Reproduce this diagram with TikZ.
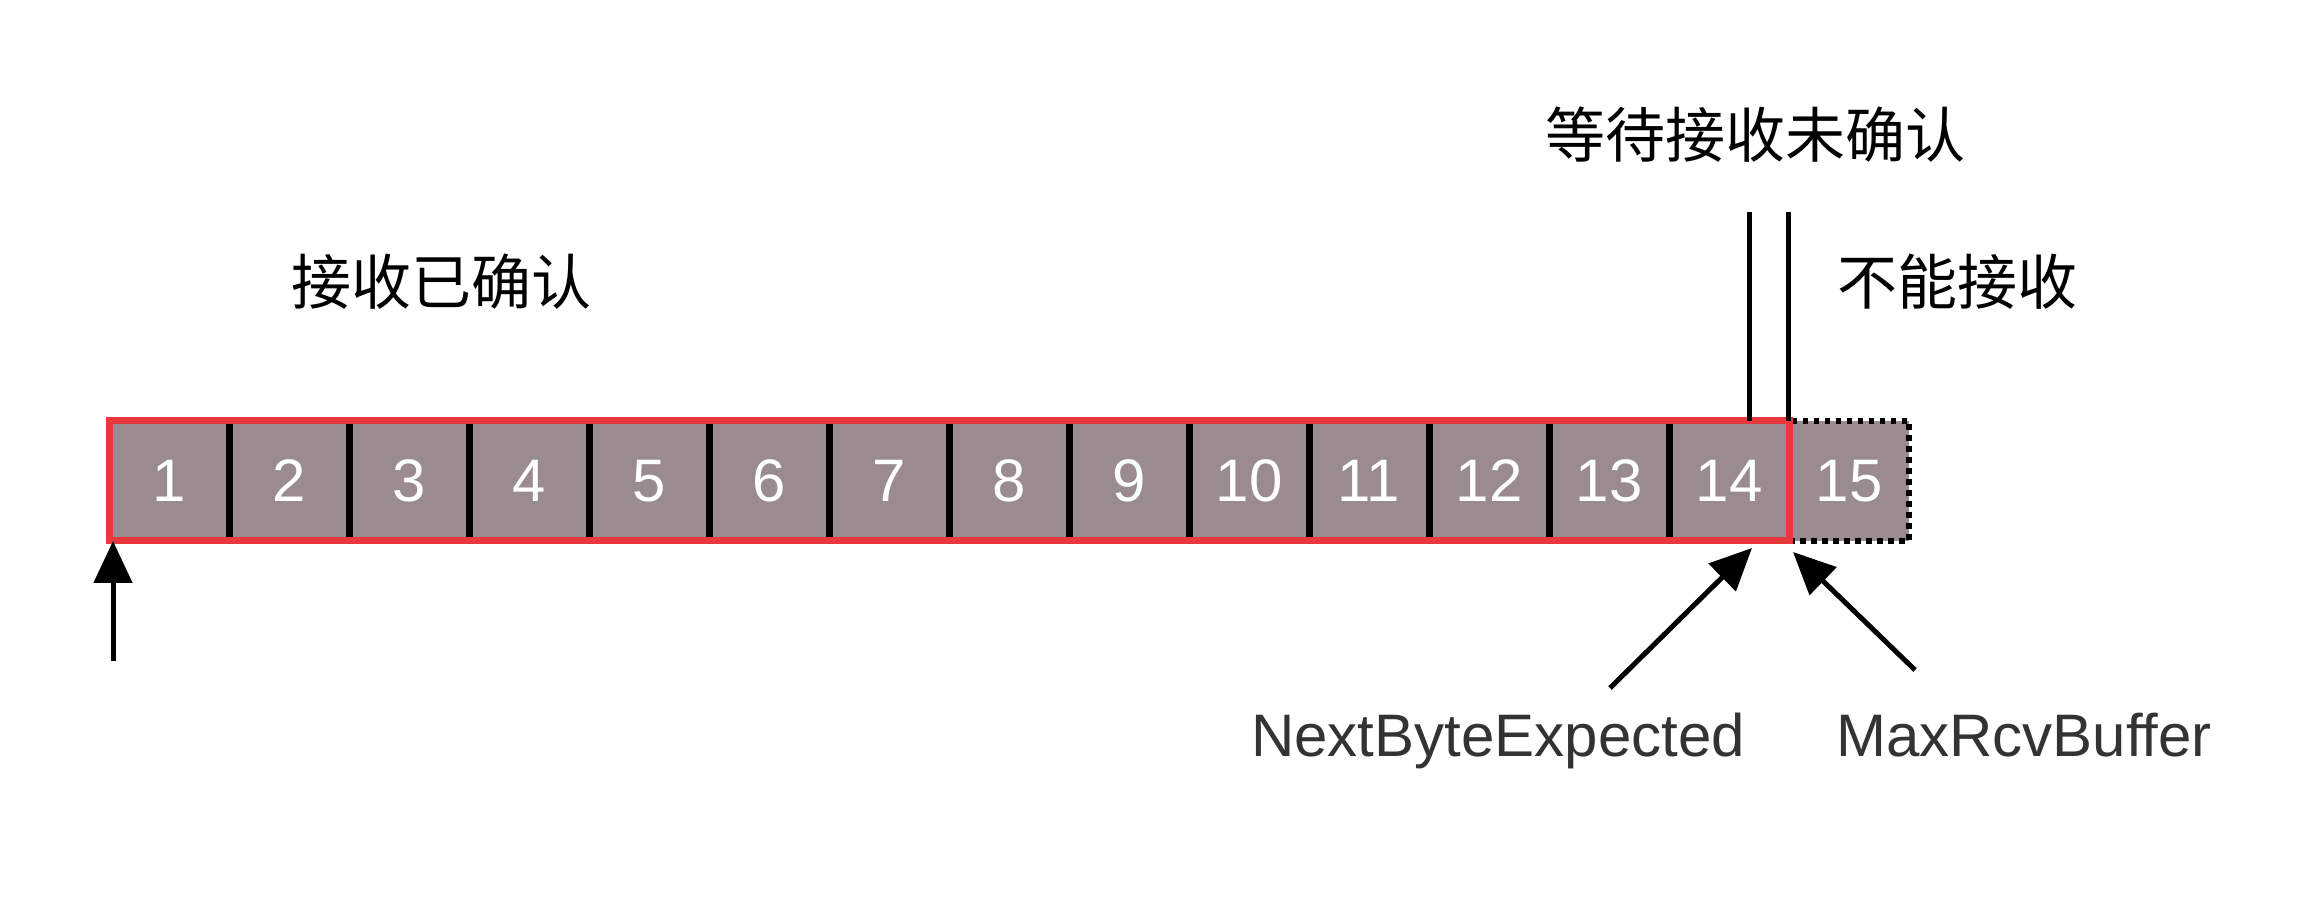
\documentclass[tikz,border=0pt]{standalone}
\usepackage{fontspec}
\setmainfont{Liberation Sans}
\newfontfamily\cjk{Noto Sans CJK SC}
\usetikzlibrary{positioning,arrows.meta}
\definecolor{cellgray}{HTML}{998B90}
\definecolor{winred}{HTML}{E8383D}
\definecolor{labelgray}{HTML}{333333}

\begin{document}
\begin{tikzpicture}[x=0.5pt,y=-0.5pt]
        \tikzset{cell/.style={minimum size=60pt,inner sep=0pt,outer sep=0pt,
                fill=cellgray,draw=black,line width=3.5pt,text=white,
                font=\fontsize{30}{36}\selectfont},
            dotcell/.style={cell,line width=2.75pt,dash pattern=on 2.75pt off 2.75pt},
            region/.style={font=\cjk\fontsize{30}{36}\selectfont},
            pointer/.style={font=\fontsize{30}{36}\selectfont,text=labelgray,anchor=base},
            bar/.style={line width=2.5pt},
            arr/.style={line width=2.5pt,-{Triangle[length=21pt,width=19pt]}},
            node distance=0pt}
        \useasboundingbox (0,0) rectangle (2304,897);
        \node[cell] (c1) at (169,481) {1};
        \foreach \i [count=\j from 1] in {2,...,14}
            \node[cell,right=of c\j] (c\i) {\i};
        \node[dotcell,right=of c14] (c15) {15};
        \draw[winred,line width=3.5pt] (c1.north west) rectangle (c14.south east);
        \node[region] (acked) at (441,282) {接收已确认};
        \node[region] (waiting) at (1755,135) {等待接收未确认};
        \node[region] (refused) at (1957,282) {不能接收};
        \coordinate (bar1) at (1749,212);
        \coordinate (bar2) at (1788,212);
        \draw[bar] (bar1) -- (bar1 |- c14.north);
        \draw[bar] (bar2) -- (bar2 |- c14.north);
        \coordinate (base) at (113,661);
        \draw[arr] (base) -- (base |- c1.south);
        \node[pointer] (nbe) at (1498,757) {NextByteExpected};
        \node[pointer] (mrb) at (2024,757) {MaxRcvBuffer};
        \coordinate (nbetail) at (1610,688);
        \coordinate (nbetip) at ([xshift=-18.5pt,yshift=-3.5pt]c14.south east);
        \coordinate (mrbtail) at (1915,670);
        \coordinate (mrbtip) at ([xshift=2pt,yshift=-5.5pt]c14.south east);
        \draw[arr] (nbetail) -- (nbetip);
        \draw[arr] (mrbtail) -- (mrbtip);
    \end{tikzpicture}
\end{document}
